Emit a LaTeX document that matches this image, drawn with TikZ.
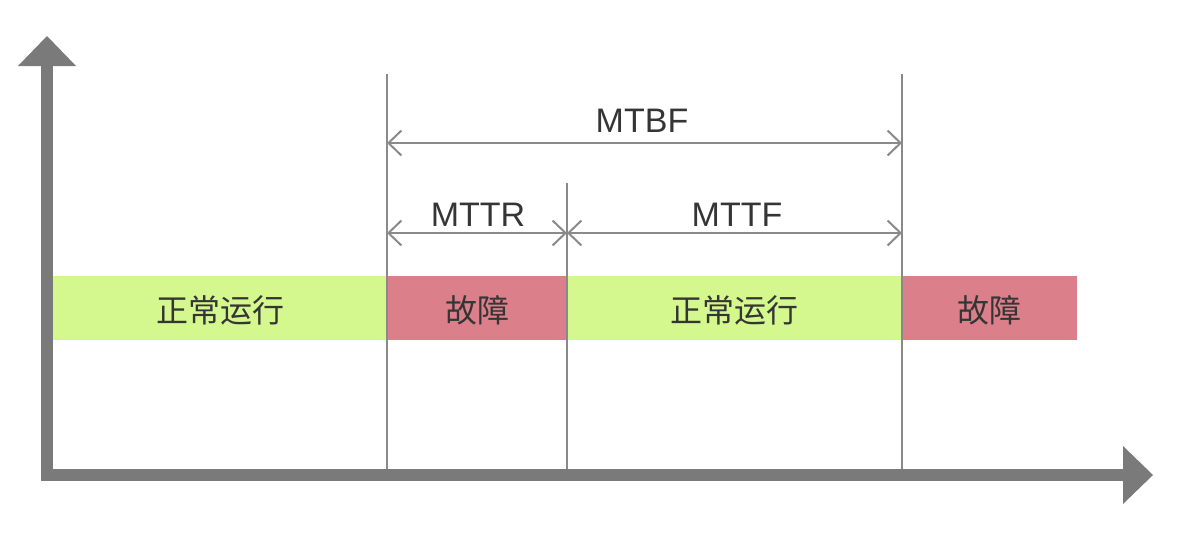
\documentclass[tikz,border=0pt]{standalone}
\usepackage{fontspec}
\setmainfont{Liberation Sans}
\newfontfamily\cjk{Noto Sans CJK SC}
\usetikzlibrary{arrows.meta}
\definecolor{okgreen}{HTML}{D5F88E}
\definecolor{badred}{HTML}{DB7F8A}
\definecolor{axisgray}{HTML}{7A7A7A}
\definecolor{linegray}{HTML}{8A8A8A}
\definecolor{txt}{HTML}{353535}
\begin{document}
\begin{tikzpicture}[x=1pt,y=-1pt,
  bar/.style={draw=none, inner sep=0pt, minimum height=64pt},
  okbar/.style={bar, fill=okgreen},
  badbar/.style={bar, fill=badred},
  barlabel/.style={inner sep=0pt, text=txt, font=\cjk\fontsize{32}{32}\selectfont},
  mark line/.style={draw=linegray, line width=2pt},
  dim/.style={draw=linegray, line width=2pt, {Straight Barb[length=13pt,width=25pt,line width=2pt]}-{Straight Barb[length=13pt,width=25pt,line width=2pt]}},
  dimlabel/.style={anchor=base, inner sep=0pt, text=txt, font=\fontsize{34}{34}\selectfont},
  axisline/.style={draw=axisgray, line width=12.5pt},
  axishead/.style={fill=axisgray, draw=none}]
\useasboundingbox (0,0) rectangle (1186,546);
% bars
\node[okbar, minimum width=334pt] (n1) at (220,308) {};
\node[badbar, minimum width=180pt] (f1) at (477,308) {};
\node[okbar, minimum width=335pt] (n2) at (734.5,308) {};
\node[badbar, minimum width=175pt] (f2) at (989.5,308) {};
\node[barlabel] (tn1) at ([yshift=-2.5pt]n1.center) {正常运行};
\node[barlabel] (tf1) at ([yshift=-2.5pt]f1.center) {故障};
\node[barlabel] (tn2) at ([yshift=-2.5pt]n2.center) {正常运行};
\node[barlabel] (tf2) at ([yshift=-2.5pt]f2.center) {故障};
% marker lines
\coordinate (a1) at (387,74);
\coordinate (a0) at (387,470);
\coordinate (b1) at (567,183);
\coordinate (b0) at (567,470);
\coordinate (c1) at (902,74);
\coordinate (c0) at (902,470);
\draw[mark line] (a1) -- (a0);
\draw[mark line] (b1) -- (b0);
\draw[mark line] (c1) -- (c0);
% dimension arrows
\coordinate (mtbfL) at (387,143);
\coordinate (mtbfR) at (902,143);
\coordinate (mttrL) at (387,233);
\coordinate (mttrR) at (567,233);
\coordinate (mttfR) at (902,233);
\draw[dim] (mtbfL) -- (mtbfR);
\draw[dim] (mttrL) -- (mttrR);
\draw[dim] (mttrR) -- (mttfR);
\node[dimlabel] (lmtbf) at (642,132) {MTBF};
\node[dimlabel] (lmttr) at (478,226) {MTTR};
\node[dimlabel] (lmttf) at (737,226) {MTTF};
% axes
\coordinate (O) at (47,475);
\coordinate (ytop) at (47,66);
\coordinate (xend) at (1123,475);
\draw[axisline, line cap=rect] (ytop) -- (O) -- (xend);
\fill[axisgray] (41,66) rectangle (53,475);
\path[axishead] (18,66) -- (47,36) -- (76,66) -- cycle;
\path[axishead] (1123,446) -- (1153,475) -- (1123,504) -- cycle;
\end{tikzpicture}
\end{document}
